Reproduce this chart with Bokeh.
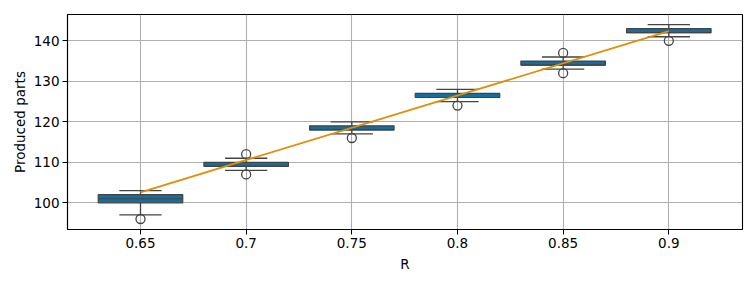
from bokeh.plotting import figure
from bokeh.models import FixedTicker, Range1d, ColumnDataSource
from bokeh.embed import file_html
from bokeh.resources import INLINE

# ---- data ----
R = [0.65, 0.7, 0.75, 0.8, 0.85, 0.9]
tick_labels = ["0.65", "0.7", "0.75", "0.8", "0.85", "0.9"]
q1 = [100, 109, 118, 126, 134, 142]
median = [101, 109, 118, 126, 134, 142]
q3 = [102, 110, 119, 127, 135, 143]
whisker_low = [97, 108, 117, 125, 133, 141]
whisker_high = [103, 111, 120, 128, 136, 144]
outlier_R = [0.65, 0.7, 0.7, 0.75, 0.8, 0.85, 0.85, 0.9]
outlier_val = [96, 112, 107, 116, 124, 137, 132, 140]
fit_R = [0.65, 0.9]
fit_val = [102.6, 142.4]
y_ticks = [100, 110, 120, 130, 140]

BOX_W = 0.04
CAP_W = 0.02
FILL = "#176d9c"
EDGE = "#444444"
ORANGE = "#de8f05"
FONT = "DejaVu Sans"

p = figure(width=756, height=284, output_backend="svg", toolbar_location=None,
           x_range=Range1d(0.61546, 0.93487), y_range=Range1d(93.41, 146.49),
           min_border_left=67, min_border_right=14, min_border_top=14, min_border_bottom=55)

p.outline_line_color = "black"
p.outline_line_width = 1.1
p.background_fill_color = "white"
p.border_fill_color = "white"

for ax in (p.xaxis[0], p.yaxis[0]):
    ax.axis_line_color = "black"
    ax.axis_line_width = 1.1
    ax.major_tick_out = 5
    ax.major_tick_in = 0
    ax.major_tick_line_color = "black"
    ax.minor_tick_line_color = None
    ax.major_label_text_font = FONT
    ax.major_label_text_font_size = "13.5px"
    ax.major_label_text_color = "black"
    ax.axis_label_text_font = FONT
    ax.axis_label_text_font_size = "13.5px"
    ax.axis_label_text_font_style = "normal"
    ax.axis_label_text_color = "black"

p.xaxis.ticker = FixedTicker(ticks=R)
p.xaxis.major_label_overrides = {r: t for r, t in zip(R, tick_labels)}
p.xaxis.axis_label = "R"
p.xaxis.major_label_standoff = 3
p.xaxis.axis_label_standoff = 5
p.yaxis.ticker = FixedTicker(ticks=y_ticks)
p.yaxis.axis_label = "Produced parts"
p.yaxis.major_label_standoff = 3
p.yaxis.axis_label_standoff = 3

p.xgrid.ticker = FixedTicker(ticks=R)
p.ygrid.ticker = FixedTicker(ticks=y_ticks)
for g in (p.xgrid[0], p.ygrid[0]):
    g.grid_line_color = "#b0b0b0"
    g.grid_line_width = 1.1

src = ColumnDataSource(dict(
    R=R, q1=q1, q3=q3, med=median, wl=whisker_low, wh=whisker_high,
    left=[r - BOX_W / 2 for r in R], right=[r + BOX_W / 2 for r in R],
    cl=[r - CAP_W / 2 for r in R], cr=[r + CAP_W / 2 for r in R],
))

# whiskers
p.segment(x0="R", y0="q3", x1="R", y1="wh", source=src, line_color=EDGE, line_width=1.3)
p.segment(x0="R", y0="q1", x1="R", y1="wl", source=src, line_color=EDGE, line_width=1.3)
# caps
p.segment(x0="cl", y0="wh", x1="cr", y1="wh", source=src, line_color=EDGE, line_width=1.3)
p.segment(x0="cl", y0="wl", x1="cr", y1="wl", source=src, line_color=EDGE, line_width=1.3)
# boxes
p.quad(left="left", right="right", bottom="q1", top="q3", source=src,
       fill_color=FILL, line_color=EDGE, line_width=1.2)
p.segment(x0="left", y0="med", x1="right", y1="med", source=src, line_color=EDGE, line_width=1.2)
# outliers
p.scatter(outlier_R, outlier_val, size=9, marker="circle", fill_color=None,
          line_color=EDGE, line_width=1.3)
# regression line
p.line(fit_R, fit_val, line_color=ORANGE, line_width=1.8)

open("out.html", "w").write(file_html(p, INLINE))
